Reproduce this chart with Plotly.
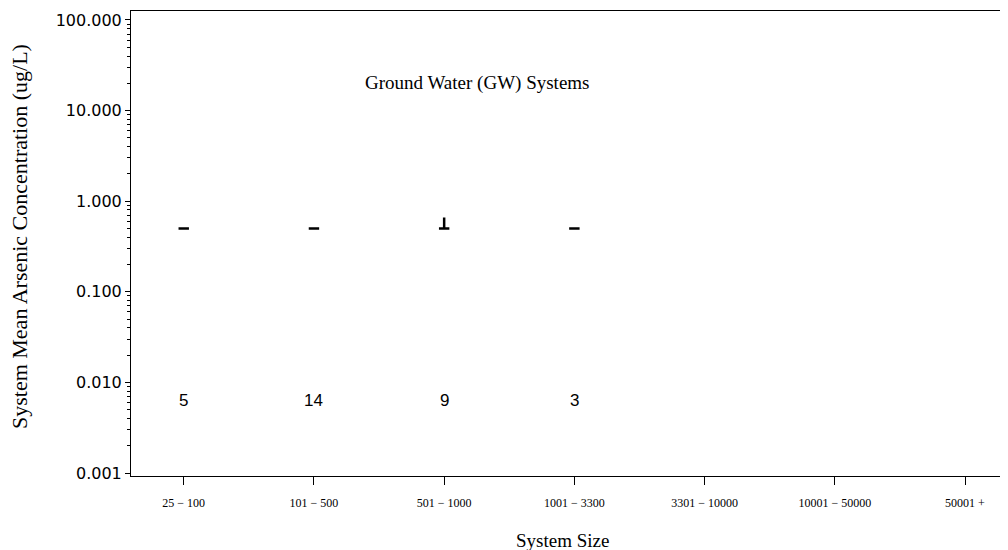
import math
import plotly.graph_objects as go

categories = ["25 − 100", "101 − 500", "501 − 1000", "1001 − 3300", "3301 − 10000", "10001 − 50000", "50001 +"]
box_cats = ["25 − 100", "101 − 500", "501 − 1000", "1001 − 3300"]
q1 = [0.5, 0.5, 0.5, 0.5]
median = [0.5, 0.5, 0.5, 0.5]
q3 = [0.5, 0.5, 0.5, 0.5]
lowerfence = [0.5, 0.5, 0.5, 0.5]
upperfence = [0.5, 0.5, 0.66, 0.5]
counts = ["5", "14", "9", "3"]
count_y = 0.0063
title_y = 20.0
ytick_vals = [0.001, 0.01, 0.1, 1, 10, 100]
ytick_text = ["0.001", "0.010", "0.100", "1.000", "10.000", "100.000"]
minor_vals = [m * 10 ** e for e in range(-3, 2) for m in range(2, 10)]

yr = [-3.033, 2.099]
PW = 884.0
PH = 465.0

fig = go.Figure()
fig.add_trace(go.Box(
    x=box_cats, q1=q1, median=median, q3=q3,
    lowerfence=lowerfence, upperfence=upperfence,
    width=0.08, whiskerwidth=0,
    line=dict(color="black", width=2.5),
    fillcolor="black", boxpoints=False, showlegend=False,
))
# invisible helper trace so the minor-tick overlay axis is drawn
fig.add_trace(go.Scatter(x=[box_cats[0]], y=[median[0]], yaxis="y2", mode="markers",
                         marker=dict(opacity=0), hoverinfo="skip", showlegend=False))

for c, n in zip(box_cats, counts):
    fig.add_annotation(x=c, y=math.log10(count_y), yref="y", xref="x", text=n, showarrow=False,
                       font=dict(family="Liberation Sans", size=17, color="black"))

fig.add_annotation(x=(477 - 131) / PW, y=math.log10(title_y), xref="paper", yref="y",
                   text="Ground Water (GW) Systems", xanchor="center", yanchor="middle",
                   showarrow=False, font=dict(family="Liberation Serif", size=19, color="black"))

fig.add_annotation(x=(20 - 131) / PW, y=(476 - 237) / PH, xref="paper", yref="paper",
                   text="System Mean Arsenic Concentration (ug/L)", textangle=-90, showarrow=False,
                   xanchor="center", yanchor="middle",
                   font=dict(family="Liberation Serif", size=22, color="black"))
fig.add_annotation(x=(562 - 131) / PW, y=(476 - 540) / PH, xref="paper", yref="paper",
                   text="System Size", showarrow=False, xanchor="center", yanchor="middle",
                   font=dict(family="Liberation Serif", size=19, color="black"))

fig.update_layout(
    width=1008, height=550,
    margin=dict(l=123, r=1, t=3, b=82),
    plot_bgcolor="white", paper_bgcolor="white",
    xaxis=dict(
        type="category", categoryorder="array", categoryarray=categories,
        tickvals=categories, ticktext=categories,
        range=[-0.405, 6.384], automargin=False,
        showline=True, linecolor="black", linewidth=1, mirror=True,
        ticks="outside", ticklen=8, tickcolor="black", ticklabelstandoff=8,
        tickfont=dict(family="Liberation Serif", size=12, color="black"),
        showgrid=False, zeroline=False,
    ),
    yaxis=dict(
        type="log", range=yr, automargin=False,
        tickvals=ytick_vals, ticktext=ytick_text,
        showline=True, linecolor="black", linewidth=1,
        ticks="outside", ticklen=5, tickcolor="black",
        tickfont=dict(family="DejaVu Sans", size=16, color="black"),
        showgrid=False, zeroline=False,
    ),
    yaxis2=dict(
        type="log", range=yr, overlaying="y", side="left", automargin=False,
        tickvals=minor_vals, showticklabels=False,
        ticks="outside", ticklen=3, tickcolor="black",
        showgrid=False, zeroline=False, showline=False,
    ),
)

fig.write_html("out.html")
